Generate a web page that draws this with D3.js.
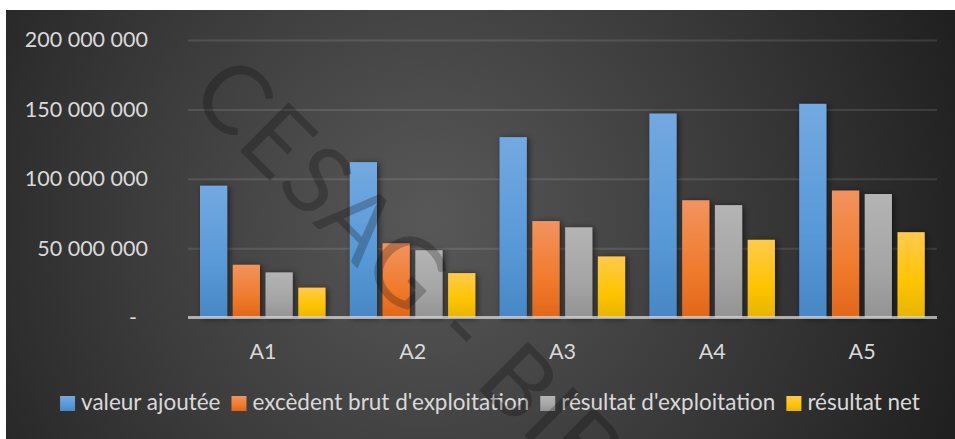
<!DOCTYPE html>
<html>
<head>
<meta charset="utf-8">
<script src="https://cdn.jsdelivr.net/npm/d3@7"></script>
<style>
  html, body { margin: 0; padding: 0; background: #ffffff; }
  svg { display: block; }
  text { font-family: Lato, "Open Sans", sans-serif; }
</style>
</head>
<body>
<svg id="chart" width="955" height="439"></svg>
<script>
// Chart data
const categories = ["A1", "A2", "A3", "A4", "A5"];
const seriesNames = ["valeur ajoutée", "excèdent brut d'exploitation", "résultat d'exploitation", "résultat net"];
const valeurAjoutee = [95e6, 112e6, 130e6, 147e6, 154e6];
const excedentBrut = [38e6, 53.5e6, 69.5e6, 84.5e6, 91.5e6];
const resultatExploitation = [32.5e6, 48.5e6, 65e6, 81e6, 89e6];
const resultatNet = [21.5e6, 32e6, 44e6, 56e6, 61.5e6];
const yTicks = [0, 50e6, 100e6, 150e6, 200e6];

const seriesValues = [valeurAjoutee, excedentBrut, resultatExploitation, resultatNet];
const seriesColors = [
  ["#73a9e1", "#5899d8", "#4787c6"],
  ["#f2935f", "#f07b2c", "#e1661a"],
  ["#b4b4b4", "#a5a5a5", "#939393"],
  ["#ffca4c", "#ffc400", "#e6b400"]
];

const svg = d3.select("#chart");
const defs = svg.append("defs");

// Background gradient
const bg = defs.append("radialGradient").attr("id", "bgGrad")
  .attr("gradientUnits", "userSpaceOnUse")
  .attr("cx", 430).attr("cy", 220).attr("r", 560);
bg.append("stop").attr("offset", 0).attr("stop-color", "#585858");
bg.append("stop").attr("offset", 0.55).attr("stop-color", "#3a3a3a");
bg.append("stop").attr("offset", 1).attr("stop-color", "#202020");

seriesColors.forEach((c, i) => {
  const g = defs.append("linearGradient").attr("id", "bar" + i)
    .attr("x1", 0).attr("y1", 0).attr("x2", 0).attr("y2", 1);
  g.append("stop").attr("offset", 0).attr("stop-color", c[0]);
  g.append("stop").attr("offset", 0.6).attr("stop-color", c[1]);
  g.append("stop").attr("offset", 1).attr("stop-color", c[2]);
});

const shadow = defs.append("filter").attr("id", "shadow")
  .attr("x", "-30%").attr("y", "-10%").attr("width", "160%").attr("height", "130%");
shadow.append("feDropShadow").attr("dx", 2).attr("dy", 1).attr("stdDeviation", 3)
  .attr("flood-color", "#000").attr("flood-opacity", 0.55);

defs.append("clipPath").attr("id", "areaClip")
  .append("rect").attr("x", 6).attr("y", 10).attr("width", 949).attr("height", 429);

svg.append("rect").attr("x", 6).attr("y", 10).attr("width", 949).attr("height", 429)
  .attr("fill", "url(#bgGrad)");

// Scales
const x0 = d3.scaleBand().domain(categories).range([188, 937]).padding(0);
const x1 = d3.scaleBand().domain(d3.range(seriesNames.length))
  .range([12, x0.bandwidth() - 12.3]).paddingInner(0.17).paddingOuter(0);
const y = d3.scaleLinear().domain([0, 200e6]).range([317.5, 40]);

const fmt = d3.formatLocale({ decimal: ",", thousands: " ", grouping: [3], currency: ["", ""] }).format(",");

// Gridlines
svg.append("g")
  .attr("transform", "translate(188,0)")
  .call(d3.axisLeft(y).tickValues(yTicks.filter(d => d > 0)).tickSize(-(937 - 188)).tickFormat(""))
  .call(g => g.select(".domain").remove())
  .call(g => g.selectAll("line").attr("stroke", "rgba(255,255,255,0.11)").attr("stroke-width", 2));

// Y axis labels
svg.append("g")
  .attr("transform", "translate(148,0)")
  .call(d3.axisLeft(y).tickValues(yTicks).tickSize(0).tickPadding(0)
    .tickFormat(d => d === 0 ? "-" : fmt(d)))
  .call(g => g.select(".domain").remove())
  .call(g => g.selectAll("text")
    .attr("fill", "#d9d9d9").attr("font-size", 21.5)
    .attr("font-family", "Lato, sans-serif")
    .attr("dx", d => d === 0 ? -11 : 0));

// Bars
const groups = svg.append("g").selectAll("g").data(categories).join("g")
  .attr("transform", d => `translate(${x0(d)},0)`);
groups.selectAll("rect")
  .data((d, ci) => seriesValues.map((vals, si) => ({ si, v: vals[ci] })))
  .join("rect")
  .attr("x", d => x1(d.si))
  .attr("width", x1.bandwidth())
  .attr("y", d => y(d.v))
  .attr("height", d => y(0) - y(d.v))
  .attr("fill", d => `url(#bar${d.si})`)
  .attr("filter", "url(#shadow)");

// Category axis
svg.append("line").attr("x1", 188).attr("x2", 937).attr("y1", y(0)).attr("y2", y(0))
  .attr("stroke", "rgba(220,220,220,0.72)").attr("stroke-width", 3);

svg.append("g")
  .attr("transform", `translate(0,${y(0)})`)
  .call(d3.axisBottom(x0).tickSize(0).tickPadding(26))
  .call(g => g.select(".domain").remove())
  .call(g => g.selectAll("text")
    .attr("fill", "#d9d9d9").attr("font-size", 21.5)
    .attr("font-family", "Lato, sans-serif"));

// Legend
const legend = svg.append("g");
const items = legend.selectAll("g").data(seriesNames).join("g");
items.append("rect").attr("width", 15).attr("height", 15).attr("y", 396)
  .attr("fill", (d, i) => `url(#bar${i})`);
items.append("text").attr("y", 410).attr("fill", "#d9d9d9")
  .attr("font-size", 22.5).text(d => d);
let widths = [];
items.each(function () { widths.push(this.querySelector("text").getComputedTextLength()); });
const total = d3.sum(widths) + seriesNames.length * 21 + (seriesNames.length - 1) * 11;
let cx = 490 - total / 2;
items.each(function (d, i) {
  const g = d3.select(this);
  g.select("rect").attr("x", cx);
  g.select("text").attr("x", cx + 21);
  cx += 21 + widths[i] + 11;
});

// Watermark
svg.append("g").attr("clip-path", "url(#areaClip)")
  .append("text")
  .attr("transform", "translate(187,98) rotate(45)")
  .attr("font-size", 96).attr("font-weight", 400)
  .attr("letter-spacing", 2)
  .attr("fill", "rgba(0,0,0,0.23)")
  .text("CESAG - BIBLIOTHEQUE");
</script>
</body>
</html>
